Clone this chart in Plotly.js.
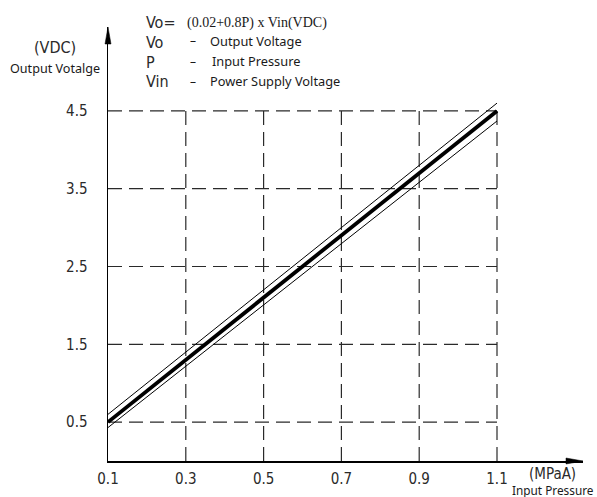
<!DOCTYPE html>
<html>
<head>
<meta charset="utf-8">
<script src="https://cdn.plot.ly/plotly-3.0.1.min.js"></script>
<style>
  html, body { margin: 0; padding: 0; background: #fff; }
  #chart { width: 597px; height: 497px; }
</style>
</head>
<body>
<div id="chart"></div>
<script>
// ---- data ----
var pressure = [0.1, 1.1];            // MPa
var outputNominal = [0.5, 4.5];       // VDC
var outputUpper = [0.6, 4.6];
var outputLower = [0.43, 4.37];
var xTickVals = [0.1, 0.3, 0.5, 0.7, 0.9, 1.1];
var xTickText = ['0.1', '0.3', '0.5', '0.7', '0.9', '1.1'];
var yTickVals = [0.5, 1.5, 2.5, 3.5, 4.5];
var yTickText = ['0.5', '1.5', '2.5', '3.5', '4.5'];

// ---- layout geometry (pixels) ----
var W = 597, H = 497;
var L = 108, R = 583, T = 27, B = 461;
var pxPerX = 389;     // pixels per 1 MPa
var pxPerY = 77.8;    // pixels per 1 VDC
var xMin = 0.1, xMax = xMin + (R - L) / pxPerX;
var yMin = 0, yMax = (B - T) / pxPerY;

function px(xp) { return (xp - L) / (R - L); }
function py(yp) { return (B - yp) / (B - T); }

var cadFont = '"Liberation Sans Narrow", "DejaVu Sans Condensed", "Arial Narrow", "Liberation Sans", sans-serif';
var uiFont = '"Noto Sans", "Open Sans", sans-serif';
var serifFont = '"Liberation Serif", "DejaVu Serif", serif';
var textCol = '#1a1a1a';
var cadCol = '#2a2a2a';

// grid lines built from tick arrays
var gx = [], gy = [];
yTickVals.forEach(function (v) {
  gx.push(xTickVals[0], xTickVals[xTickVals.length - 1], null);
  gy.push(v, v, null);
});
xTickVals.slice(1).forEach(function (v) {
  gx.push(v, v, null);
  gy.push(yMin, yTickVals[yTickVals.length - 1], null);
});

var traces = [
  { x: gx, y: gy, mode: 'lines', line: { color: '#2a2a2a', width: 1.2, dash: '14px,7px' }, hoverinfo: 'skip' },
  { x: pressure, y: outputUpper, mode: 'lines', line: { color: '#000', width: 1 }, cliponaxis: false },
  { x: pressure, y: outputLower, mode: 'lines', line: { color: '#000', width: 1 } },
  { x: pressure, y: outputNominal, mode: 'lines', line: { color: '#000', width: 3.8 } }
];

function ann(text, xp, yp, font, size, anchor, color) {
  return {
    text: text, xref: 'paper', yref: 'paper', x: px(xp), y: py(yp),
    xanchor: anchor || 'left', yanchor: 'middle', showarrow: false, borderpad: 0,
    font: { family: font, size: size, color: color || cadCol }
  };
}

var annotations = [
  ann('(VDC)', 55, 48, cadFont, 16, 'center'),
  ann('Output Votalge', 55, 68, uiFont, 12.6, 'center', textCol),
  ann('Vo=', 145, 22, cadFont, 16, 'left'),
  ann('(0.02+0.8P) x Vin(VDC)', 186, 23, serifFont, 14, 'left', textCol),
  ann('Vo', 145, 42, cadFont, 16, 'left'),
  ann('–', 193, 41, uiFont, 12, 'center', textCol),
  ann('Output Voltage', 209, 41, uiFont, 12.8, 'left', textCol),
  ann('P', 145, 62, cadFont, 16, 'left'),
  ann('–', 193, 61, uiFont, 12, 'center', textCol),
  ann('Input Pressure', 211, 61, uiFont, 12.8, 'left', textCol),
  ann('Vin', 145, 82, cadFont, 16, 'left'),
  ann('–', 193, 81, uiFont, 12, 'center', textCol),
  ann('Power Supply Voltage', 209, 81, uiFont, 12.8, 'left', textCol),
  ann('(MPaA)', 552, 474, cadFont, 15, 'center'),
  ann('Input Pressure', 511, 490, uiFont, 11.8, 'left', textCol)
];

var shapes = [
  // arrowhead on x axis
  { type: 'path', xref: 'paper', yref: 'paper', xsizemode: 'pixel', ysizemode: 'pixel',
    xanchor: 1, yanchor: 0, path: 'M0,0 L-17,3 L-17,-3 Z',
    fillcolor: '#000', line: { color: '#000', width: 0.5 } },
  // arrowhead on y axis
  { type: 'path', xref: 'paper', yref: 'paper', xsizemode: 'pixel', ysizemode: 'pixel',
    xanchor: 0, yanchor: 1, path: 'M0,0 L-3,-17 L3,-17 Z',
    fillcolor: '#000', line: { color: '#000', width: 0.5 } }
];

var layout = {
  width: W, height: H,
  margin: { l: L, r: W - R, t: T, b: H - B, pad: 0 },
  paper_bgcolor: '#fff', plot_bgcolor: '#fff',
  showlegend: false,
  xaxis: {
    range: [xMin, xMax], showgrid: false, zeroline: false,
    showline: true, linecolor: '#000', linewidth: 1.5,
    tickmode: 'array', tickvals: xTickVals, ticktext: xTickText,
    ticks: '', ticklabelstandoff: 3,
    tickfont: { family: cadFont, size: 15, color: cadCol }, fixedrange: true
  },
  yaxis: {
    range: [yMin, yMax], showgrid: false, zeroline: false,
    showline: true, linecolor: '#000', linewidth: 1.5,
    tickmode: 'array', tickvals: yTickVals, ticktext: yTickText,
    ticks: '', ticklabelstandoff: 16,
    tickfont: { family: cadFont, size: 15, color: cadCol }, fixedrange: true
  },
  annotations: annotations,
  shapes: shapes
};

Plotly.newPlot('chart', traces, layout, { displayModeBar: false, staticPlot: true });
</script>
</body>
</html>
